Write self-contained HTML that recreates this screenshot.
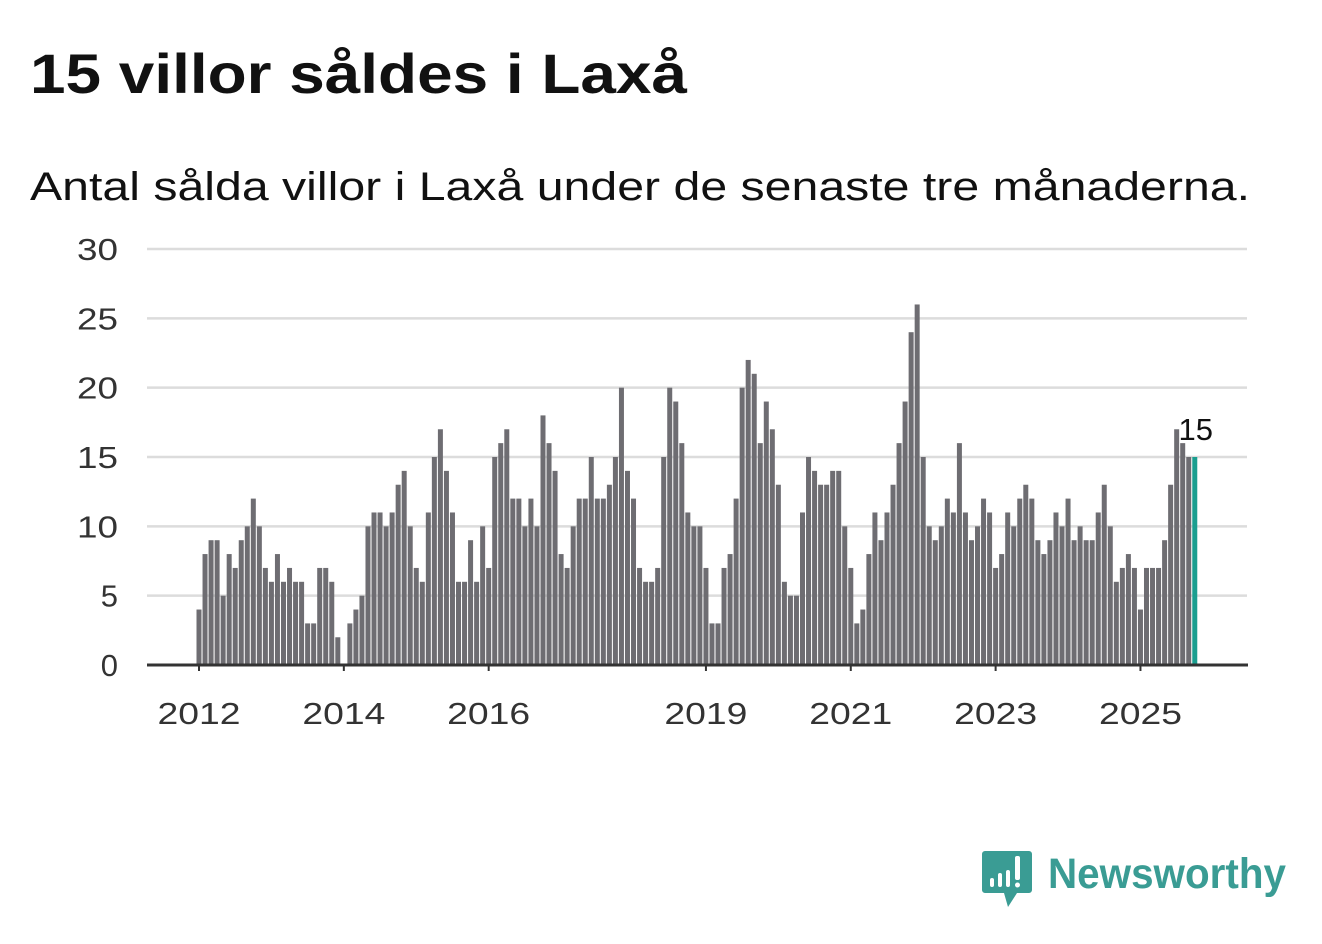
<!DOCTYPE html>
<html><head><meta charset="utf-8">
<style>
body{margin:0;background:#fff;width:1322px;height:939px;overflow:hidden;font-family:"Liberation Sans",sans-serif;}
</style></head>
<body>
<svg id="chart" width="1322" height="939" xmlns="http://www.w3.org/2000/svg">
<text x="30" y="93" font-size="56" font-weight="bold" fill="#111" textLength="657" lengthAdjust="spacingAndGlyphs" font-family="Liberation Sans, sans-serif">15 villor såldes i Laxå</text>
<text x="30" y="200" font-size="40" fill="#111" textLength="1220" lengthAdjust="spacingAndGlyphs" font-family="Liberation Sans, sans-serif">Antal sålda villor i Laxå under de senaste tre månaderna.</text>
<g id="grid"></g><g id="bars"></g><g id="axes"></g>
<g>
<path d="M985 851 h44 a3 3 0 0 1 3 3 v36 a3 3 0 0 1 -3 3 h-12 l-9 14 l-4 -14 h-19 a3 3 0 0 1 -3 -3 v-36 a3 3 0 0 1 3 -3z" fill="#3a9c94"/>
<rect x="990" y="878" width="4" height="9" rx="2" fill="#fff"/>
<rect x="998" y="873" width="4" height="14" rx="2" fill="#fff"/>
<rect x="1006" y="870" width="4" height="17" rx="2" fill="#fff"/>
<rect x="1015" y="856" width="5" height="24" rx="2" fill="#fff"/>
<circle cx="1017.5" cy="885" r="2.5" fill="#fff"/>
<text x="1048" y="888" font-size="43" font-weight="bold" fill="#3a9c94" textLength="238" lengthAdjust="spacingAndGlyphs" font-family="Liberation Sans, sans-serif">Newsworthy</text>
</g>
</svg>
<script>
const startYear = 2012;
const values = [
4,8,9,9,5,8,7,9,10,12,10,7,
6,8,6,7,6,6,3,3,7,7,6,2,
0,3,4,5,10,11,11,10,11,13,14,10,
7,6,11,15,17,14,11,6,6,9,6,10,
7,15,16,17,12,12,10,12,10,18,16,14,
8,7,10,12,12,15,12,12,13,15,20,14,
12,7,6,6,7,15,20,19,16,11,10,10,
7,3,3,7,8,12,20,22,21,16,19,17,
13,6,5,5,11,15,14,13,13,14,14,10,
7,3,4,8,11,9,11,13,16,19,24,26,
15,10,9,10,12,11,16,11,9,10,12,11,
7,8,11,10,12,13,12,9,8,9,11,10,
12,9,10,9,9,11,13,10,6,7,8,7,
4,7,7,7,9,13,17,16,15,15];
const yTicks = [0,5,10,15,20,25,30];
const xTickYears = [2012,2014,2016,2019,2021,2023,2025];
const NS="http://www.w3.org/2000/svg";
const y0=665, pxPerUnit=(665-249)/30;
const x0=199, step=6.035;
const yScale=v=>y0-v*pxPerUnit;
const xScale=i=>x0+i*step;
function mk(tag,attrs,parent){const e=document.createElementNS(NS,tag);for(const k in attrs)e.setAttribute(k,attrs[k]);parent.appendChild(e);return e;}
const grid=document.getElementById('grid'),bars=document.getElementById('bars'),axes=document.getElementById('axes');
yTicks.forEach(t=>{
  if(t>0){const l=mk('line',{x1:147,x2:1247,y1:yScale(t),y2:yScale(t),stroke:'#dcdcdc','stroke-width':2.5},grid);
  
  }
  const tx=mk('text',{x:118,y:yScale(t)+11,'text-anchor':'end','font-size':31,fill:'#333','font-family':'Liberation Sans, sans-serif'},axes);
  tx.textContent=t;
  if(String(t).length===2){tx.setAttribute('textLength',41);tx.setAttribute('lengthAdjust','spacingAndGlyphs');}
  
  
});
values.forEach((v,i)=>{
  const last=i===values.length-1;
  const r=mk('rect',{x:xScale(i)-2.5,y:yScale(v),width:5,height:v*pxPerUnit,fill:last?'#1a9e8f':'#6e6d72'},bars);
  
  
  if(last){const lb=mk('text',{x:xScale(i)+1,y:yScale(v)-17,'text-anchor':'middle','font-size':31,fill:'#111','font-family':'Liberation Sans, sans-serif'},bars);
  lb.textContent=v;
  
  }
});
const ax=mk('line',{x1:147,x2:1248,y1:y0,y2:y0,stroke:'#333','stroke-width':3},axes);


xTickYears.forEach(yr=>{
  const x=xScale((yr-startYear)*12);
  const tk=mk('line',{x1:x,x2:x,y1:y0,y2:y0+6,stroke:'#333','stroke-width':2},axes);
  
  
  const tx=mk('text',{x:x,y:724,'text-anchor':'middle','font-size':31,fill:'#333',textLength:83,lengthAdjust:'spacingAndGlyphs','font-family':'Liberation Sans, sans-serif'},axes);
  tx.textContent=yr;
  
  
});
</script>
</body></html>
